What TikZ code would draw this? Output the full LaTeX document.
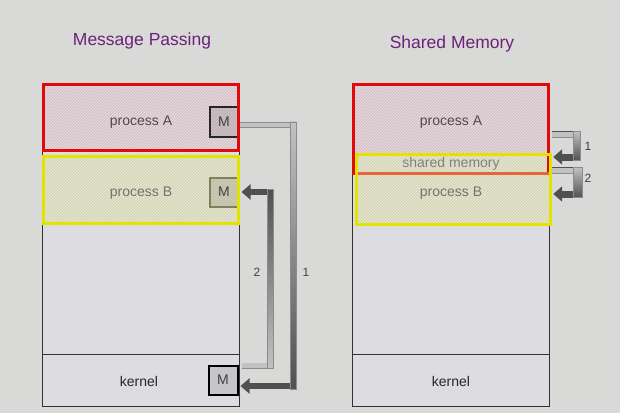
\documentclass[tikz,border=0pt]{standalone}
\usepackage{fontspec}
\setmainfont{Liberation Sans}
\usetikzlibrary{arrows.meta,patterns,calc}

\definecolor{bgcol}{HTML}{D9D9D7}
\definecolor{memcol}{HTML}{DCDCE1}
\definecolor{titlecol}{HTML}{6B2379}
\definecolor{redline}{HTML}{E10A0A}
\definecolor{yelline}{HTML}{E3E300}
\definecolor{sharedline}{HTML}{E8643A}
\definecolor{pinkfill}{HTML}{D6C2C9}
\definecolor{pinkhatch}{HTML}{EEE3E7}
\definecolor{yelfill}{HTML}{D6D6BA}
\definecolor{yelhatch}{HTML}{EBEBD8}
\definecolor{arrowlight}{HTML}{C2C2C2}
\definecolor{arrowdark}{HTML}{505050}
\definecolor{edgegray}{HTML}{8C8C8C}

\tikzset{
  title/.style={text=titlecol, font=\fontsize{17.5}{20}\selectfont},
  lbl/.style={text=black!70, font=\fontsize{14}{16}\selectfont, inner sep=0pt},
  num/.style={text=black!75, font=\fontsize{12}{14}\selectfont},
  column/.style={draw=black!80, fill=memcol, line width=1pt, inner sep=0pt},
  procA/.style={preaction={fill=pinkfill}, pattern=north east lines, pattern color=pinkhatch, inner sep=0pt},
  procB/.style={preaction={fill=yelfill}, pattern=north east lines, pattern color=yelhatch, inner sep=0pt},
  redbox/.style={draw=redline, line width=3.5pt},
  yelbox/.style={draw=yelline, line width=3.5pt},
  mbox/.style={line width=2pt, fill=black, fill opacity=0.1, text opacity=1, minimum size=29pt, inner sep=0pt, font=\fontsize{14}{16}\selectfont, text=black!75},
  flow/.style={draw=arrowdark, line width=6pt, -{Triangle[length=9pt,width=15pt]}},
  lightseg/.style={line width=4.5pt, arrowlight, preaction={draw=edgegray, line width=6pt}},
}

\begin{document}
\begin{tikzpicture}[x=1pt,y=1pt]
  %background
  \fill[bgcol] (0,0) rectangle (620,413);
  \useasboundingbox (0,0) rectangle (620,413);
  %titles
  \node[title] (mpTitle) at (142,372) {Message Passing};
  \node[title] (smTitle) at (452,369) {Shared Memory};

  %message passing: memory
  \node[column, minimum width=197pt, minimum height=323pt] (mpCol) at (141,168) {};
  \draw[black!80, line width=1pt] (mpCol.west |- 0,59) -- (mpCol.east |- 0,59);
  \node[lbl, text=black!85] (mpKernel) at (139,32) {kernel};
  \node[procA, minimum width=195pt, minimum height=66pt] (mpA) at (141,295.5) {};
  \node[procB, minimum width=195pt, minimum height=67pt] (mpB) at (141,223) {};
  \node[lbl] (mpAtxt) at (141,291) {process A};
  \node[lbl, text=black!55] (mpBtxt) at (141,220) {process B};
  \node[mbox, draw=black!85] (mA) at (224,291) {M};
  \node[mbox, draw=black!60!olive!70] (mB) at (224,221) {M};
  \node[mbox, draw=black] (mK) at (223,33) {M};

  %arrow 1: A -> kernel
  \coordinate (r1) at ($(mA.east)+(54,-3)$);
  \draw[flow] ($(mA.east)+(0,-3)$) -- (r1) |- ($(mK.east)+(2,-6)$);
  \draw[lightseg] ($(mA.east)+(0,-3)$) -- ($(r1)+(-3,0)$);
  \shade[top color=arrowlight, bottom color=arrowdark, draw=edgegray, line width=0.75pt]
    ($(r1)+(-3,3)$) rectangle ($(r1 |- mK.east)+(3,-9)$);
  %arrow 2: kernel -> B
  \coordinate (k2) at ($(mK.north east)+(3,-1)$);
  \coordinate (r2) at ($(mB.east)+(31,0)$);
  \draw[flow] (k2) -| (r2) -- ($(mB.east)+(2,0)$);
  \draw[lightseg] (k2) -- ($(k2 -| r2)+(-3,0)$);
  \shade[bottom color=arrowlight, top color=arrowdark, draw=edgegray, line width=0.75pt]
    ($(k2 -| r2)+(-3,-3)$) rectangle ($(r2)+(3,3)$);
  \node[num] (mpOne) at (306,141) {1};
  \node[num] (mpTwo) at (257,141) {2};

  %message passing: borders
  \draw[redbox] (mpA.south west) rectangle (mpA.north east);
  \draw[yelbox] (mpB.south west) rectangle (mpB.north east);

  %shared memory: memory
  \node[column, minimum width=197pt, minimum height=323pt] (smCol) at (451,168) {};
  \draw[black!80, line width=1pt] (smCol.west |- 0,59) -- (smCol.east |- 0,59);
  \node[lbl, text=black!85] (smKernel) at (451,32) {kernel};
  \node[procA, minimum width=195pt, minimum height=89pt] (smA) at (451,284) {};
  \node[procB, minimum width=194pt, minimum height=70pt] (smB) at (453.5,223.5) {};
  \node[lbl] (smAtxt) at (451,291) {process A};
  \node[lbl, text=black!55] (smBtxt) at (451,220) {process B};
  \node[lbl, text=black!50, minimum width=194pt] (smShared) at (451,249.5) {shared memory};

  %shared memory: borders
  \draw[redbox] (smA.south west) rectangle (smA.north east);
  \draw[yelbox] (smB.south west) rectangle (smB.north east);
  \draw[sharedline, line width=3pt] ($(smB.west |- smA.south)+(1.5,0)$) -- ($(smA.south east)+(0,0)$);

  %arrow 1: A -> shared
  \draw[flow, line width=7pt, -{Triangle[length=9pt,width=15pt]}]
    ($(smA.east)+(3,-5.5)$) -- ++(25.5,0) |- ($(smShared.east)+(5,6.5)$);
  \draw[lightseg] ($(smA.east)+(3,-5.5)$) -- ++(22,0);
  \shade[top color=arrowlight, bottom color=arrowdark, draw=edgegray, line width=0.75pt]
    ($(smA.east)+(25,-2)$) rectangle ($(smShared.east)+(32,3)$);
  %arrow 2: shared -> B
  \draw[flow, line width=7pt, -{Triangle[length=9pt,width=15pt]}]
    ($(smShared.east)+(4,-7)$) -- ++(24.5,0) |- ($(smB.east)+(2.5,-4.5)$);
  \draw[lightseg] ($(smShared.east)+(4,-7)$) -- ++(21,0);
  \shade[top color=arrowlight, bottom color=arrowdark, draw=edgegray, line width=0.75pt]
    ($(smShared.east)+(25,-3.5)$) rectangle ($(smB.east)+(32,-8)$);
  \node[num] (smOne) at (588,267) {1};
  \node[num] (smTwo) at (588,235) {2};
\end{tikzpicture}
\end{document}
